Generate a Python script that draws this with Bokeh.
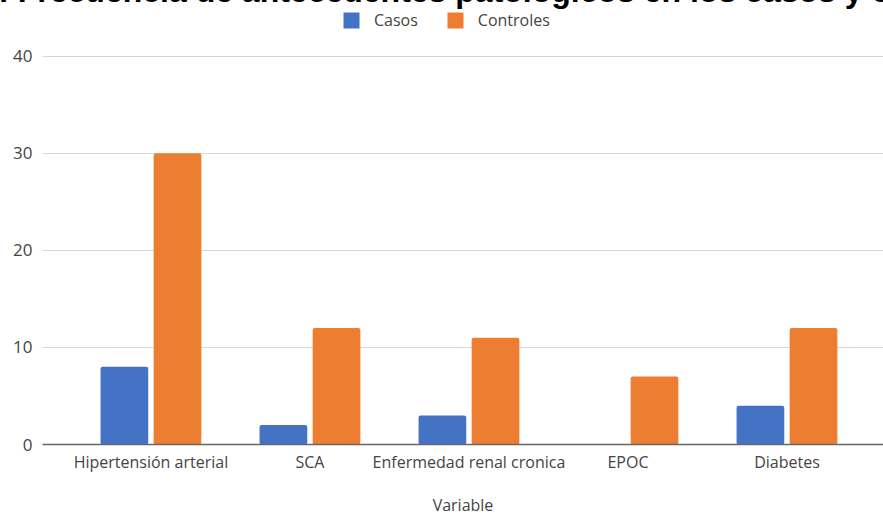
import numpy as np
from bokeh.plotting import figure
from bokeh.models import ColumnDataSource, Range1d, FixedTicker, Legend, LegendItem
from bokeh.embed import file_html
from bokeh.resources import INLINE

title_text = "Gráfico 1: Frecuencia de antecedentes patológicos en los casos y controles"
categories = ["Hipertensión arterial", "SCA", "Enfermedad renal cronica", "EPOC", "Diabetes"]
casos = [8, 2, 3, 0, 4]
controles = [30, 12, 11, 7, 12]
y_ticks = [0, 10, 20, 30, 40]
x_title = "Variable"

W, H = 883, 518
HIDDEN = 40                      # part of the canvas pushed above the window (cut-off title)
FONT = "Open Sans"
TXT = "#444444"
FRAME_LEFT = 42
FRAME_TOP = 8                    # frame begins just under the title, legend sits inside it
GRID_TOP = 56                    # pixel row of the "40" gridline
FRAME_BOTTOM = 446
y_end = y_ticks[-1] * (FRAME_BOTTOM - FRAME_TOP) / (FRAME_BOTTOM - GRID_TOP)

centers = np.arange(len(categories)) + 0.5
src = ColumnDataSource(dict(
    xc=centers - 0.167, xo=centers + 0.167, casos=casos, controles=controles,
))

p = figure(width=W, height=H + HIDDEN, output_backend="svg", toolbar_location=None,
           x_range=Range1d(-0.182, 5.107), y_range=Range1d(0, y_end),
           min_border_left=FRAME_LEFT, min_border_right=0,
           min_border_top=FRAME_TOP + HIDDEN, min_border_bottom=H - FRAME_BOTTOM,
           styles={"margin-top": f"-{HIDDEN}px"})
p.outline_line_color = None
p.background_fill_color = "white"

r1 = p.vbar(x="xc", top="casos", bottom=0, width=0.30, source=src,
            fill_color="#4472C4", line_color=None, border_radius=2)
r2 = p.vbar(x="xo", top="controles", bottom=0, width=0.30, source=src,
            fill_color="#ED7D31", line_color=None, border_radius=2)

# title (only its lower part is visible, as in the reference)
p.title.text = title_text
p.title.text_font = "Liberation Sans"
p.title.text_font_style = "bold"
p.title.text_font_size = "32px"
p.title.text_color = "black"
p.title.align = "left"
p.title.offset = -183
p.title.standoff = 0

# y axis
yax = p.yaxis[0]
yax.ticker = FixedTicker(ticks=y_ticks)
yax.axis_line_color = None
yax.major_tick_line_color = None
yax.minor_tick_line_color = None
yax.major_label_text_font = FONT
yax.major_label_text_font_size = "17px"
yax.major_label_text_color = TXT
yax.major_label_standoff = 4

# x axis
xax = p.xaxis[0]
xax.ticker = FixedTicker(ticks=list(centers))
xax.major_label_overrides = {float(c): lab for c, lab in zip(centers, categories)}
xax.axis_line_color = "#666666"
xax.axis_line_width = 1.5
xax.major_tick_line_color = None
xax.minor_tick_line_color = None
xax.major_label_text_font = FONT
xax.major_label_text_font_size = "16px"
xax.major_label_text_color = TXT
xax.major_label_standoff = 0
xax.axis_label = x_title
xax.axis_label_text_font = FONT
xax.axis_label_text_font_size = "16px"
xax.axis_label_text_font_style = "normal"
xax.axis_label_text_color = TXT
xax.axis_label_standoff = 18

p.xgrid.grid_line_color = None
p.ygrid.grid_line_color = "#d9d9d9"
p.ygrid.grid_line_width = 1.2
p.ygrid.ticker = FixedTicker(ticks=y_ticks)

# legend inside the (tall) frame; location = bottom-left corner in frame pixels
legend = Legend(items=[LegendItem(label="Casos", renderers=[r1]),
                       LegendItem(label="Controles", renderers=[r2])],
                orientation="horizontal", location=(341 - FRAME_LEFT, FRAME_BOTTOM - 33),
                border_line_color=None, background_fill_alpha=0,
                padding=0, margin=0, spacing=27,
                glyph_width=20, glyph_height=20, label_height=16,
                label_standoff=13, label_text_font=FONT,
                label_text_font_size="16px", label_text_color=TXT)
p.add_layout(legend, "center")

open("out.html", "w").write(file_html(p, INLINE))
